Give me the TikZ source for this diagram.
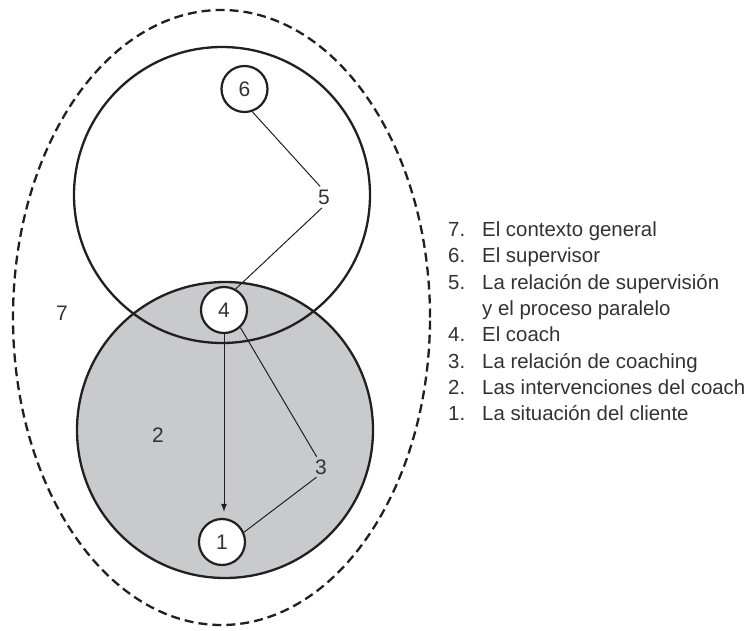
\documentclass[tikz,border=0pt]{standalone}
\usepackage{fontspec}
\setmainfont{Liberation Sans}
\usetikzlibrary{arrows.meta}
\definecolor{fillgray}{RGB}{201,202,204}
\definecolor{ink}{RGB}{35,31,32}
\definecolor{txt}{RGB}{50,50,50}
\begin{document}
\begin{tikzpicture}[x=1pt,y=-1pt,
  font=\fontsize{21}{25}\selectfont,
  circnode/.style={circle,draw=ink,line width=2.2pt,fill=white,minimum size=46pt,inner sep=0pt,text=txt},
  lbl/.style={circle,minimum size=22pt,inner sep=0pt,text=txt},
  conn/.style={draw=ink,line width=1pt},
  bigcirc/.style={draw=ink,line width=2.3pt},
  listnum/.style={anchor=base west,inner sep=0pt,text=txt,font=\fontsize{20.4}{24}\selectfont},
  listtxt/.style={anchor=base west,inner sep=0pt,text=txt,font=\fontsize{20.4}{24}\selectfont}]
\useasboundingbox (0,0) rectangle (750,631);
% outer dashed context
\draw[ink,line width=2.3pt,dash pattern=on 9pt off 5pt] (221.5,317.5) ellipse [x radius=208.5pt, y radius=307.5pt];
% lower (grey) circle
\fill[fillgray] (225,430) circle [radius=148pt];
\draw[bigcirc] (225,430) circle [radius=148pt];
% upper circle
\draw[bigcirc] (222,195) circle [radius=148pt];
% nodes
\node[circnode] (n6) at (244.5,89) {6};
\node[circnode] (n4) at (224,310) {4};
\node[circnode] (n1) at (222,542) {1};
\node[lbl] (n5) at (324,197) {5};
\node[lbl] (n3) at (321,467) {3};
\node[lbl] (n2) at (158,435) {2};
\node[lbl] (n7) at (62,313) {7};
% connectors
\draw[conn] (n6.-71) -- (n5.110);
\draw[conn] (n5.-101) -- (n4.61);
\draw[conn] (n4.-47) -- (n3.113);
\draw[conn] (n3.-114) -- (n1.24);
\draw[conn,-{Latex[length=8pt,width=6pt]},shorten >=6pt] (n4.south) -- (n4.south |- n1.north);
% legend
\node[listnum] (l7) at (448,236.7) {7.};
\node[listtxt] (t7) at (482,236.7) {El contexto general};
\node[listnum] (l6) at (448,263) {6.};
\node[listtxt] (t6) at (482,263) {El supervisor};
\node[listnum] (l5) at (448,289.2) {5.};
\node[listtxt] (t5) at (482,289.2) {La relación de supervisión};
\node[listtxt] (t5b) at (482,315.5) {y el proceso paralelo};
\node[listnum] (l4) at (448,341.7) {4.};
\node[listtxt] (t4) at (482,341.7) {El coach};
\node[listnum] (l3) at (448,368) {3.};
\node[listtxt] (t3) at (482,368) {La relación de coaching};
\node[listnum] (l2) at (448,394.2) {2.};
\node[listtxt] (t2) at (482,394.2) {Las intervenciones del coach};
\node[listnum] (l1) at (448,420.5) {1.};
\node[listtxt] (t1) at (482,420.5) {La situación del cliente};
\end{tikzpicture}
\end{document}
